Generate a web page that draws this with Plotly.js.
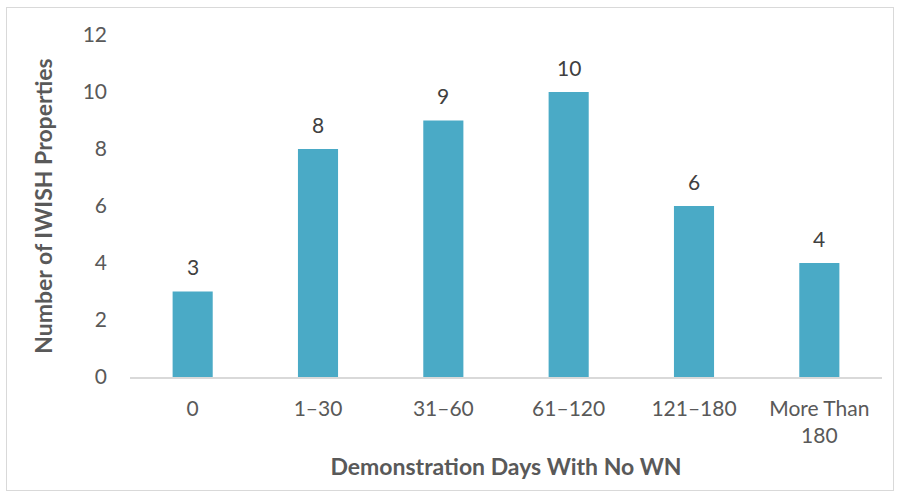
<!DOCTYPE html>
<html><head><meta charset="utf-8">
<script src="https://cdn.plot.ly/plotly-3.0.1.min.js"></script>
<style>
body{margin:0;padding:0;background:#fff;}
#chart{width:899px;height:496px;position:absolute;left:0;top:0;}
#frame{position:absolute;left:6px;top:7px;width:886px;height:482px;border:1px solid #d9d9d9;pointer-events:none;}
</style></head>
<body>
<div id="chart"></div>
<div id="frame"></div>
<script>
const categories = ["0", "1–30", "31–60", "61–120", "121–180", "More Than<br>180"];
const counts = [3, 8, 9, 10, 6, 4];
const xTitle = "Demonstration Days With No WN";
const yTitle = "Number of IWISH Properties";

const FONT = 'Lato, "Open Sans", sans-serif';

const trace = {
  type: 'bar',
  x: categories,
  y: counts,
  marker: {color: '#4aaac6'},
  hoverinfo: 'x+y'
};

const labels = categories.map((c, i) => ({
  x: c, y: counts[i], xref: 'x', yref: 'y',
  text: String(counts[i]), showarrow: false,
  yanchor: 'middle', yshift: 25,
  font: {family: FONT, size: 21, color: '#404040'}
}));

const layout = {
  width: 899, height: 496,
  margin: {l: 130, r: 17, t: 35, b: 119},
  paper_bgcolor: '#ffffff', plot_bgcolor: '#ffffff',
  bargap: 0.68,
  showlegend: false,
  font: {family: FONT, color: '#595959'},
  annotations: labels,
  xaxis: {
    type: 'category',
    showgrid: false, zeroline: false,
    showline: true, linecolor: '#d9d9d9', linewidth: 1.5,
    ticks: '', ticklabelstandoff: 12,
    tickfont: {size: 21, color: '#595959'},
    title: {text: xTitle, font: {size: 23, color: '#595959', weight: 'bold'}, standoff: 13}
  },
  yaxis: {
    range: [0, 12], dtick: 2, tick0: 0,
    showgrid: false, zeroline: false, showline: false,
    ticks: '', ticklabelstandoff: 22,
    tickfont: {size: 21, color: '#595959'},
    title: {text: yTitle, font: {size: 23, color: '#595959', weight: 'bold'}, standoff: 23}
  }
};

Plotly.newPlot('chart', [trace], layout, {displayModeBar: false, staticPlot: true});
</script>
</body></html>
